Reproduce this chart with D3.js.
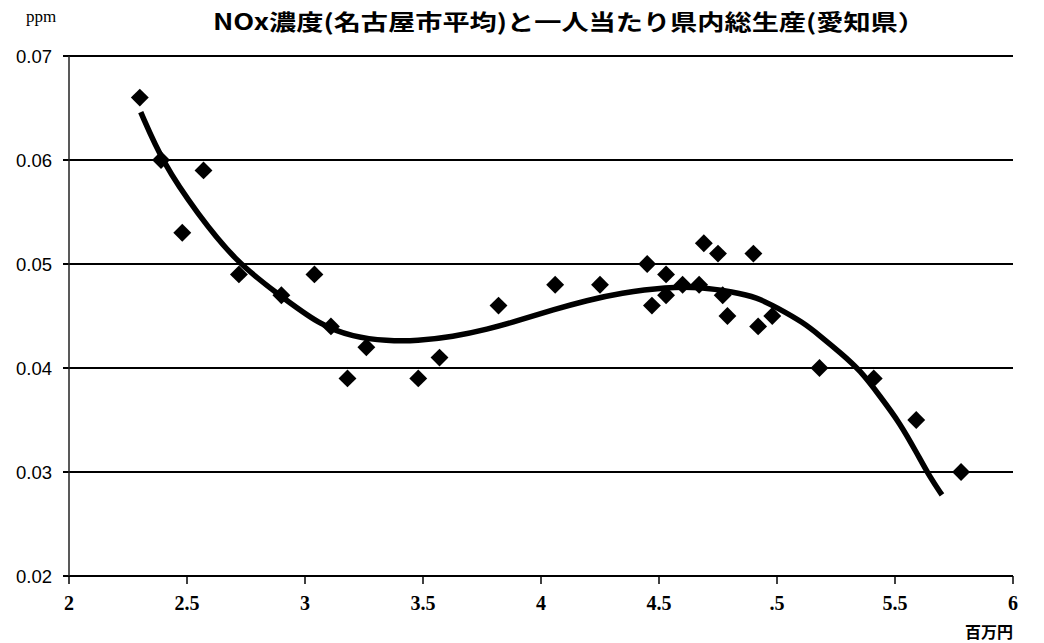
<!DOCTYPE html>
<html><head><meta charset="utf-8">
<script src="https://cdn.jsdelivr.net/npm/d3@7"></script>
<style>body{margin:0;background:#fff}svg{display:block}</style>
</head><body>
<svg id="c" width="1044" height="643"></svg>
<script>
// ---- data ----
const titleText = "NOx濃度(名古屋市平均)と一人当たり県内総生産(愛知県）";
const yUnit = "ppm";
const xUnit = "百万円";
const xTicks = [2, 2.5, 3, 3.5, 4, 4.5, 5, 5.5, 6];
const xTickLabels = ["2", "2.5", "3", "3.5", "4", "4.5", ".5", "5.5", "6"];
const yTicks = [0.02, 0.03, 0.04, 0.05, 0.06, 0.07];
const yTickLabels = ["0.02", "0.03", "0.04", "0.05", "0.06", "0.07"];
// scatter: GDP per capita (million yen) vs NOx (ppm)
const gdp = [2.30, 2.39, 2.48, 2.57, 2.72, 2.90, 3.04, 3.11, 3.18, 3.26, 3.48, 3.57, 3.82, 4.06, 4.25,
             4.45, 4.47, 4.53, 4.53, 4.60, 4.67, 4.69, 4.75, 4.77, 4.79, 4.90, 4.92, 4.98, 5.18, 5.41, 5.59, 5.78];
const nox = [0.066, 0.060, 0.053, 0.059, 0.049, 0.047, 0.049, 0.044, 0.039, 0.042, 0.039, 0.041, 0.046, 0.048, 0.048,
             0.050, 0.046, 0.049, 0.047, 0.048, 0.048, 0.052, 0.051, 0.047, 0.045, 0.051, 0.044, 0.045, 0.040, 0.039, 0.035, 0.030];
// trend line
const trendX = [2.304, 2.398, 2.542, 2.712, 2.881, 3.064, 3.203, 3.347, 3.475, 3.627, 3.771, 3.911, 4.051, 4.195, 4.335,
                4.534, 4.674, 4.814, 4.915, 5.0, 5.110, 5.182, 5.267, 5.352, 5.436, 5.521, 5.593, 5.648, 5.699];
const trendY = [0.0646, 0.0597, 0.0549, 0.0501, 0.0472, 0.0441, 0.0430, 0.0426, 0.0426, 0.0430, 0.0437, 0.0446, 0.0456, 0.0465, 0.0472,
                0.0478, 0.0478, 0.0473, 0.0468, 0.0458, 0.0444, 0.0431, 0.0415, 0.0398, 0.0373, 0.0347, 0.0318, 0.0295, 0.0278];

// ---- chart ----
const svg = d3.select("#c");
const x = d3.scaleLinear().domain([2, 6]).range([69, 1013]);
const y = d3.scaleLinear().domain([0.02, 0.07]).range([576, 56]);

// gridlines
svg.append("g").selectAll("line").data(yTicks).join("line")
  .attr("x1", 63).attr("x2", x(6)).attr("y1", d => y(d)).attr("y2", d => y(d))
  .attr("stroke", "#000").attr("stroke-width", 2);

// y axis line
svg.append("line").attr("x1", x(2)).attr("x2", x(2)).attr("y1", y(0.07)).attr("y2", y(0.02))
  .attr("stroke", "#222").attr("stroke-width", 1.5);

// x axis ticks
svg.append("g").selectAll("line").data(xTicks).join("line")
  .attr("x1", d => x(d)).attr("x2", d => x(d)).attr("y1", y(0.02)).attr("y2", y(0.02) + 8)
  .attr("stroke", "#000").attr("stroke-width", 1.5);

// y labels
svg.append("g").selectAll("text").data(yTicks).join("text")
  .attr("x", 52).attr("y", d => y(d) + 7)
  .attr("text-anchor", "end")
  .attr("font-family", "Liberation Sans, Arial, sans-serif").attr("font-size", 18.5)
  .attr("fill", "#000")
  .text((d, i) => yTickLabels[i]);

// x labels
svg.append("g").selectAll("text").data(xTicks).join("text")
  .attr("x", d => x(d)).attr("y", 610)
  .attr("text-anchor", "middle")
  .attr("font-family", "Liberation Serif, serif").attr("font-weight", "bold").attr("font-size", 20)
  .attr("fill", "#000")
  .text((d, i) => xTickLabels[i]);

// trend line
const pts = trendX.map((d, i) => [d, trendY[i]]);
svg.append("path").datum(pts)
  .attr("d", d3.line().x(d => x(d[0])).y(d => y(d[1])).curve(d3.curveBasis))
  .attr("fill", "none").attr("stroke", "#000").attr("stroke-width", 5.5).attr("stroke-linecap", "butt");

// markers (diamonds)
const diamond = d3.symbol().type(d3.symbolSquare).size(160);
svg.append("g").selectAll("path").data(gdp.map((d, i) => [d, nox[i]])).join("path")
  .attr("d", diamond)
  .attr("transform", d => `translate(${x(d[0])},${y(d[1])}) rotate(45)`)
  .attr("fill", "#000");

// title
svg.append("text").attr("x", 213).attr("y", 30)
  .attr("font-family", "Noto Sans CJK JP, sans-serif").attr("font-weight", "bold").attr("font-size", 22)
  .attr("textLength", 712).attr("lengthAdjust", "spacingAndGlyphs")
  .attr("fill", "#000").text(titleText);

// units
svg.append("text").attr("x", 26).attr("y", 22)
  .attr("font-family", "Liberation Serif, serif").attr("font-size", 17).attr("fill", "#000").text(yUnit);
svg.append("text").attr("x", 1013).attr("y", 638).attr("text-anchor", "end")
  .attr("font-family", "Noto Sans CJK JP, sans-serif").attr("font-weight", "bold").attr("font-size", 16)
  .attr("fill", "#000").text(xUnit);
</script>
</body></html>
